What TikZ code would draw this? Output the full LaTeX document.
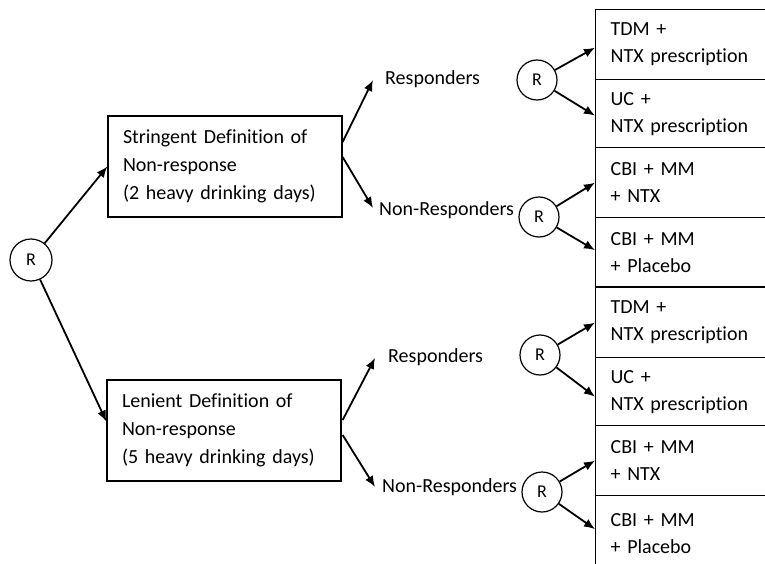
\documentclass[tikz,border=0pt]{standalone}
\usepackage{fontspec}
\setmainfont{Carlito}[Ligatures={NoCommon}]
\usetikzlibrary{arrows.meta,calc}
\begin{document}
\begin{tikzpicture}[x=1pt,y=-1pt,
  every node/.style={font=\fontsize{20}{28}\selectfont},
  arr/.style={line width=1.8pt,-{Latex[length=11pt,width=9pt]}},
  defbox/.style={draw,line width=1.3pt,minimum width=234pt,minimum height=101pt,text width=204pt,inner xsep=15pt,inner ysep=0pt,align=left},
  rbox/.style={draw,line width=1.3pt,anchor=north west,minimum width=220pt,text width=190pt,inner xsep=15pt,inner ysep=0pt,align=left,font=\fontsize{20}{27}\selectfont},
  rnd/.style={draw,circle,line width=1.2pt,minimum size=40pt,inner sep=0pt,font=\fontsize{18}{20}\selectfont},
  lab/.style={anchor=west,inner sep=0pt}]
\useasboundingbox (0,0) rectangle (765,564);
% root
\node[rnd,minimum size=42pt] (root) at (31,260) {R};
% definition boxes
\node[defbox] (s) at (225,166.5) {Stringent Definition of\\Non-response\\(2 heavy drinking days)};
\node[defbox] (l) at (224,430.5) {Lenient Definition of\\Non-response\\(5 heavy drinking days)};
% labels
\node[lab] (resp1) at (385,79) {Responders};
\node[lab] (nonresp1) at (379,210) {Non-Responders};
\node[lab] (resp2) at (388,357) {Responders};
\node[lab] (nonresp2) at (382,487) {Non-Responders};
% randomisation circles
\node[rnd] (r1) at (537,80) {R};
\node[rnd] (r2) at (539,217) {R};
\node[rnd] (r3) at (540,355) {R};
\node[rnd] (r4) at (542,492) {R};
% treatment boxes
\node[rbox,minimum height=70pt] (b1) at (595,9) {TDM +\\NTX prescription};
\node[rbox,minimum height=68pt] (b2) at (595,79) {UC +\\NTX prescription};
\node[rbox,minimum height=70pt] (b3) at (595,147) {CBI + MM\\+ NTX};
\node[rbox,minimum height=69pt] (b4) at (595,217) {CBI + MM\\+ Placebo};
\node[rbox,minimum height=70pt] (b5) at (595,287) {TDM +\\NTX prescription};
\node[rbox,minimum height=68pt] (b6) at (595,357) {UC +\\NTX prescription};
\node[rbox,minimum height=70pt] (b7) at (595,425) {CBI + MM\\+ NTX};
\node[rbox,minimum height=75pt] (b8) at (595,495) {CBI + MM\\+ Placebo};
% connectors
\draw[arr] (root) -- (s.west);
\draw[arr] (root) -- ($(l.west)+(0,-9)$);
\draw[arr] ($(s.east)+(0,-24.5)$) -- ($(resp1.west)+(-12,1)$);
\draw[arr] ($(s.east)+(0,-9.5)$) -- ($(nonresp1.west)+(-6,-2)$);
\draw[arr] ($(l.east)+(1,-10.5)$) -- ($(resp2.west)+(-13,1)$);
\draw[arr] ($(l.east)+(1,4.5)$) -- ($(nonresp2.west)+(-7,0)$);
\draw[arr] (r1) -- ($(b1.west)+(0,3)$);
\draw[arr] (r1) -- ($(b2.west)+(0,2)$);
\draw[arr] (r2) -- (b3.west);
\draw[arr] (r2) -- ($(b4.west)+(0,-2)$);
\draw[arr] (r3) -- (b5.west);
\draw[arr] (r3) -- ($(b6.west)+(0,5)$);
\draw[arr] (r4) -- (b7.west);
\draw[arr] (r4) -- ($(b8.west)+(0,-4)$);
\end{tikzpicture}
\end{document}
